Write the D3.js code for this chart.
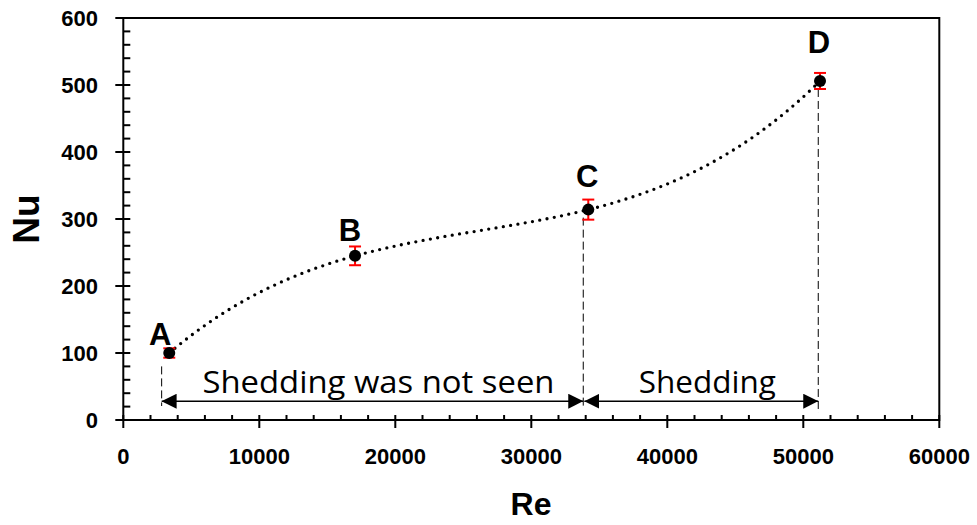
<!DOCTYPE html>
<html><head><meta charset="utf-8">
<script src="https://cdn.jsdelivr.net/npm/d3@7"></script>
<style>body{margin:0;background:#fff}svg{display:block}</style>
</head><body>
<svg id="c" width="977" height="525"></svg>
<script>
// Data
const labels = ["A", "B", "C", "D"];
const reValues = [3380, 17040, 34190, 51230];
const nuValues = [100, 245, 314, 506];
const nuErrors = [7, 14, 15, 12];
const xTicks = [0, 10000, 20000, 30000, 40000, 50000, 60000];
const yTicks = [0, 100, 200, 300, 400, 500, 600];
const guideX = [2820, 33820, 51100];       // dashed vertical guides
const guideTopNu = [80, 314, 506];
const spans = [{from: 2820, to: 33820, text: "Shedding was not seen", len: 352},
               {from: 33900, to: 51100, text: "Shedding", len: 137}];
const spanNu = 28;

const svg = d3.select("#c");
const W = 977, H = 525;
const x = d3.scaleLinear().domain([0, 60000]).range([123.3, 939.3]);
const y = d3.scaleLinear().domain([0, 600]).range([420, 18]);

// frame
svg.append("rect").attr("x", x(0)).attr("y", y(600)).attr("width", x(60000) - x(0)).attr("height", y(0) - y(600))
  .attr("fill", "none").attr("stroke", "#000").attr("stroke-width", 2);

// ticks
const g = svg.append("g").attr("stroke", "#000").attr("stroke-width", 2);
d3.range(0, 60001, 2000).forEach(v => {
  const major = v % 10000 === 0;
  g.append("line").attr("x1", x(v)).attr("x2", x(v)).attr("y1", y(0) - 5).attr("y2", y(0) + (major ? 8 : 0));
});
d3.range(0, 601, 20).forEach(v => {
  const major = v % 100 === 0;
  g.append("line").attr("y1", y(v)).attr("y2", y(v)).attr("x1", x(0) - (major ? 8 : 0)).attr("x2", x(0) + 7);
});

// tick labels
const font = "'Liberation Sans', Arial, sans-serif";
svg.append("g").selectAll("text").data(xTicks).join("text")
  .attr("x", d => x(d)).attr("y", 464).attr("text-anchor", "middle")
  .attr("font-family", font).attr("font-weight", "bold").attr("font-size", 22).attr("fill", "#000")
  .text(d => d);
svg.append("g").selectAll("text").data(yTicks).join("text")
  .attr("x", 98).attr("y", d => y(d) + 8).attr("text-anchor", "end")
  .attr("font-family", font).attr("font-weight", "bold").attr("font-size", 22).attr("fill", "#000")
  .text(d => d);

// axis titles
svg.append("text").attr("x", 531).attr("y", 515).attr("text-anchor", "middle")
  .attr("font-family", font).attr("font-weight", "bold").attr("font-size", 32).text("Re");
svg.append("text").attr("transform", "translate(39,219) rotate(-90)").attr("text-anchor", "middle")
  .attr("font-family", font).attr("font-weight", "bold").attr("font-size", 37).text("Nu");

// polynomial (order 3) trendline through the data
const pts = reValues.map((v, i) => [v, nuValues[i]]);
function poly(xx) {
  let s = 0;
  for (let i = 0; i < pts.length; i++) {
    let t = pts[i][1];
    for (let j = 0; j < pts.length; j++) if (j !== i) t *= (xx - pts[j][0]) / (pts[i][0] - pts[j][0]);
    s += t;
  }
  return s;
}
const xs = d3.range(0, 121).map(k => reValues[0] + (reValues[3] - reValues[0]) * k / 120);
svg.append("path").datum(xs)
  .attr("d", d3.line().x(d => x(d)).y(d => y(poly(d))))
  .attr("fill", "none").attr("stroke", "#000").attr("stroke-width", 3.3)
  .attr("stroke-linecap", "round").attr("stroke-dasharray", "0 7.4");

// dashed guides
svg.append("g").selectAll("line").data(guideX).join("line")
  .attr("x1", d => x(d)).attr("x2", d => x(d))
  .attr("y1", (d, i) => y(guideTopNu[i]) + (i === 0 ? 0 : 8)).attr("y2", (d, i) => i === 2 ? 413 : 406)
  .attr("stroke", "#000").attr("stroke-width", 1).attr("stroke-dasharray", "8 4");

// arrows
const defs = svg.append("defs");
defs.append("marker").attr("id", "ah").attr("viewBox", "0 0 15 15").attr("refX", 15).attr("refY", 7.5)
  .attr("markerWidth", 15).attr("markerHeight", 15).attr("markerUnits", "userSpaceOnUse").attr("orient", "auto-start-reverse")
  .append("path").attr("d", "M0,0L15,7.5L0,15Z").attr("fill", "#000");
svg.append("g").selectAll("line").data(spans).join("line")
  .attr("x1", d => x(d.from)).attr("x2", d => x(d.to)).attr("y1", y(spanNu)).attr("y2", y(spanNu))
  .attr("stroke", "#000").attr("stroke-width", 1.3)
  .attr("marker-start", "url(#ah)").attr("marker-end", "url(#ah)");
svg.append("g").selectAll("text").data(spans).join("text")
  .attr("x", d => (x(d.from) + x(d.to)) / 2 + 6).attr("y", 393)
  .attr("text-anchor", "middle").attr("font-family", "'Open Sans', sans-serif").attr("font-size", 31).attr("fill", "#000")
  .attr("textLength", d => d.len).attr("lengthAdjust", "spacingAndGlyphs")
  .text(d => d.text);

// error bars
const eb = svg.append("g").attr("stroke", "#ff0000").attr("stroke-width", 2);
reValues.forEach((v, i) => {
  const cx = x(v), y1 = y(nuValues[i] + nuErrors[i]), y0 = y(nuValues[i] - nuErrors[i]);
  eb.append("line").attr("x1", cx).attr("x2", cx).attr("y1", y1).attr("y2", y0);
  eb.append("line").attr("x1", cx - 6).attr("x2", cx + 6).attr("y1", y1).attr("y2", y1);
  eb.append("line").attr("x1", cx - 6).attr("x2", cx + 6).attr("y1", y0).attr("y2", y0);
});

// points
svg.append("g").selectAll("circle").data(reValues).join("circle")
  .attr("cx", d => x(d)).attr("cy", (d, i) => y(nuValues[i])).attr("r", 6).attr("fill", "#000");

// point labels
const lblOff = [[-9, -3], [-5, -5], [-1, -13], [-1, -20]];
svg.append("g").selectAll("text").data(labels).join("text")
  .attr("x", (d, i) => x(reValues[i]) + lblOff[i][0]).attr("y", (d, i) => y(nuValues[i] + nuErrors[i]) + lblOff[i][1])
  .attr("text-anchor", "middle").attr("font-family", font).attr("font-weight", "bold").attr("font-size", 31)
  .text(d => d);
</script>
</body></html>
